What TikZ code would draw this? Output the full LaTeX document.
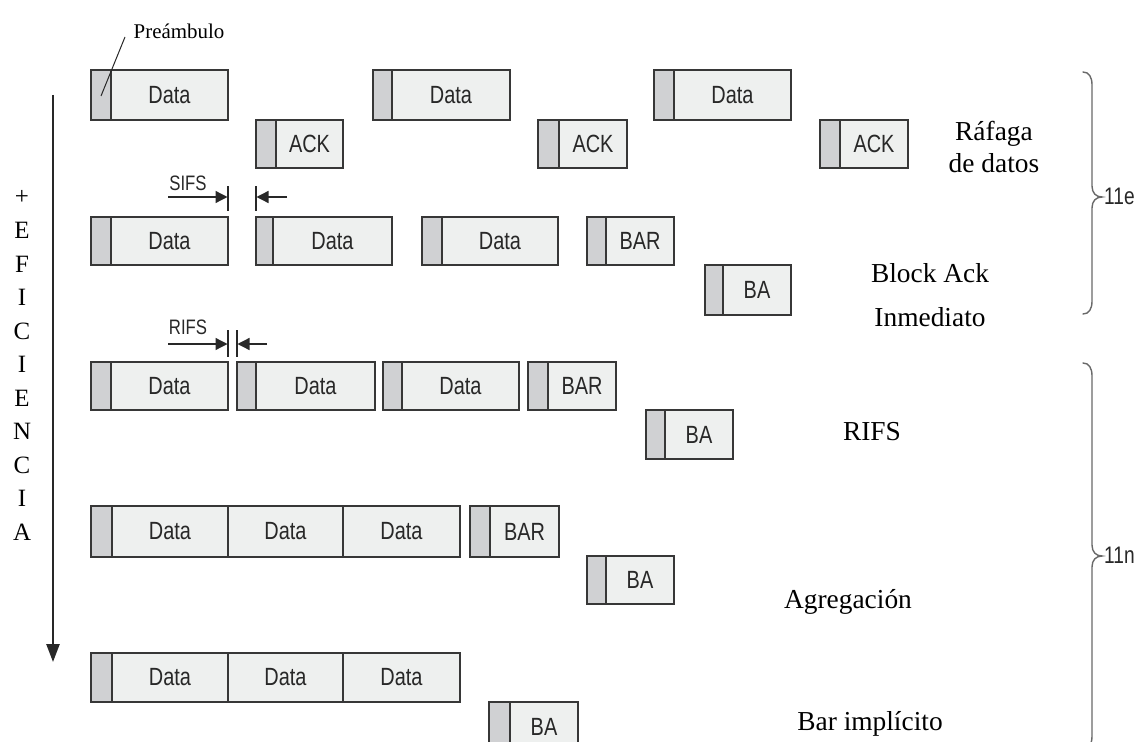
\documentclass[tikz,border=0pt]{standalone}
\usepackage{fontspec}
\setmainfont{Liberation Serif}
\newfontfamily\boxfont[FakeStretch=0.8]{Liberation Sans}
\usetikzlibrary{arrows.meta}

\definecolor{bodygray}{RGB}{238,240,239}
\definecolor{pregray}{RGB}{208,209,211}
\definecolor{edgegray}{RGB}{55,55,55}
\definecolor{bracegray}{RGB}{105,105,105}
\definecolor{inkgray}{RGB}{40,40,40}

% frame with a preamble strip: name, x1, y1, x2, y2, strip edge, label
\newcommand\frm[7]{%
  \fill[bodygray] (#2,#3) rectangle (#4,#5);
  \fill[pregray] (#2,#3) rectangle (#6,#5);
  \draw[edge] (#6,#3) -- (#6,#5);
  \node[frame, minimum width={(#4-#2)*1bp}, minimum height={(#5-#3)*1bp}]
    (#1) at ({(#2+#4)/2},{(#3+#5)/2}) {};
  \node[boxlabel] (#1-t) at ({(#6+#4)/2},{(#3+#5)/2}) {#7};
}

% long aggregated frame: name, y1, y2
\newcommand\aggfrm[3]{%
  \fill[bodygray] (91,#2) rectangle (460,#3);
  \fill[pregray] (91,#2) rectangle (112,#3);
  \draw[edge] (112,#2) -- (112,#3) (228,#2) -- (228,#3) (343,#2) -- (343,#3);
  \node[frame, minimum width=369bp, minimum height={(#3-#2)*1bp}]
    (#1) at ({(91+460)/2},{(#2+#3)/2}) {};
  \node[boxlabel] (#1-a) at (170,{(#2+#3)/2}) {Data};
  \node[boxlabel] (#1-b) at (285.5,{(#2+#3)/2}) {Data};
  \node[boxlabel] (#1-c) at (401.5,{(#2+#3)/2}) {Data};
}

\begin{document}
\begin{tikzpicture}[x=1bp,y=-1bp,
  edge/.style={draw=edgegray, line width=1.5pt},
  frame/.style={draw=edgegray, line width=1.6pt, rectangle, inner sep=0pt, outer sep=0pt},
  boxlabel/.style={font=\boxfont\fontsize{25}{30}\selectfont, text=inkgray, inner sep=0pt},
  gaplabel/.style={font=\boxfont\fontsize{21}{25}\selectfont, text=inkgray, inner sep=0pt, anchor=base},
  sidelabel/.style={font=\fontsize{27.5}{33}\selectfont, text=black, inner sep=0pt, anchor=base},
  stackletter/.style={font=\fontsize{25}{28}\selectfont, text=black, inner sep=0pt},
  stdlabel/.style={font=\boxfont\fontsize{24}{28}\selectfont, text=inkgray, inner sep=0pt, anchor=base west},
  gaparrow/.style={draw=inkgray, line width=1.3pt, -{Triangle[length=12bp, width=12bp]}},
  tickline/.style={draw=inkgray, line width=1.2pt},
  effarrow/.style={draw=inkgray, line width=2.4pt, -{Triangle[length=18bp, width=13bp]}},
  brace/.style={draw=bracegray, line width=1.4pt, line cap=round},
  leader/.style={draw=inkgray, line width=1pt}]

\useasboundingbox (0,0) rectangle (1142,742);
\clip (0,0) rectangle (1142,742);
\fill[white] (0,0) rectangle (1142,742);

% ---- data burst
\frm{r1d1}{91}{70}{228}{120}{111}{Data}
\frm{r1a1}{256}{120}{343}{168}{276}{ACK}
\frm{r1d2}{373}{70}{510}{120}{392}{Data}
\frm{r1a2}{538}{120}{627}{168}{559}{ACK}
\frm{r1d3}{654}{70}{791}{120}{674}{Data}
\frm{r1a3}{820}{120}{908}{168}{840}{ACK}

% ---- immediate block ack
\frm{r2d1}{91}{217}{228}{265}{111}{Data}
\frm{r2d2}{256}{217}{392}{265}{273}{Data}
\frm{r2d3}{422}{217}{558}{265}{442}{Data}
\frm{r2bar}{587}{217}{674}{265}{606}{BAR}
\frm{r2ba}{705}{265}{791}{315}{723}{BA}

% ---- RIFS
\frm{r3d1}{91}{362}{228}{410}{111}{Data}
\frm{r3d2}{237}{362}{375}{410}{256}{Data}
\frm{r3d3}{383}{362}{519}{410}{402}{Data}
\frm{r3bar}{528}{362}{616}{410}{548}{BAR}
\frm{r3ba}{646}{410}{733}{459}{665}{BA}

% ---- aggregation
\aggfrm{r4agg}{506}{557}
\frm{r4bar}{470}{506}{559}{557}{490}{BAR}
\frm{r4ba}{587}{556}{674}{604}{606}{BA}

% ---- implicit BAR
\aggfrm{r5agg}{653}{702}
\frm{r5ba}{489}{702}{578}{751}{510}{BA}

% ---- preamble callout
\node[font=\fontsize{21}{25}\selectfont, inner sep=0pt, anchor=base] (prelbl) at (179,39) {Preámbulo};
\coordinate (preFoot) at (125,37);
\coordinate (preTip) at (101,96);
\draw[leader] (preFoot) -- (preTip);

% ---- SIFS gap markers
\node[gaplabel] (sifs) at (188,190) {SIFS};
\coordinate (sifsTail) at (168,197);
\coordinate (sifsHead) at (227.5,197);
\coordinate (sifsTail2) at (287,197);
\coordinate (sifsHead2) at (256.5,197);
\draw[tickline] (228,186) -- (228,211);
\draw[tickline] (256,186) -- (256,211);
\draw[gaparrow] (sifsTail) -- (sifsHead);
\draw[gaparrow] (sifsTail2) -- (sifsHead2);

% ---- RIFS gap markers
\node[gaplabel] (rifs) at (188,334) {RIFS};
\coordinate (rifsTail) at (168,344);
\coordinate (rifsHead) at (227.5,344);
\coordinate (rifsTail2) at (267,344);
\coordinate (rifsHead2) at (237.5,344);
\draw[tickline] (228,330) -- (228,357);
\draw[tickline] (237,330) -- (237,357);
\draw[gaparrow] (rifsTail) -- (rifsHead);
\draw[gaparrow] (rifsTail2) -- (rifsHead2);

% ---- efficiency axis
\coordinate (effTop) at (53,95);
\coordinate (effEnd) at (53,662);
\draw[effarrow] (effTop) -- (effEnd);
\foreach \ch [count=\i from 0] in {+,E,F,I,C,I,E,N,C,I,A}
  \node[stackletter] (eff-\i) at (22,{197+33.5*\i}) {\ch};

% ---- scheme names
\node[sidelabel] (n1a) at (994,140) {Ráfaga};
\node[sidelabel] (n1b) at (994,172) {de datos};
\node[sidelabel] (n2a) at (930,282) {Block Ack};
\node[sidelabel] (n2b) at (930,326) {Inmediato};
\node[sidelabel] (n3) at (872,440) {RIFS};
\node[sidelabel] (n4) at (848,608) {Agregación};
\node[sidelabel] (n5) at (870,730) {Bar implícito};

% ---- standard braces
\draw[brace] (1083,72) .. controls (1089,72) and (1092,77) .. (1092,85)
  -- (1092,186) .. controls (1092,193) and (1096,197) .. (1102,197)
  .. controls (1096,197) and (1092,201) .. (1092,208)
  -- (1092,301) .. controls (1092,309) and (1089,314) .. (1083,314);
\node[stdlabel] (std11e) at (1104,204) {11e};

\draw[brace] (1083,363) .. controls (1089,363) and (1092,368) .. (1092,376)
  -- (1092,545) .. controls (1092,552) and (1096,556) .. (1102,556)
  .. controls (1096,556) and (1092,560) .. (1092,567)
  -- (1092,736) .. controls (1092,744) and (1089,749) .. (1083,749);
\node[stdlabel] (std11n) at (1104,563) {11n};

\end{tikzpicture}
\end{document}
